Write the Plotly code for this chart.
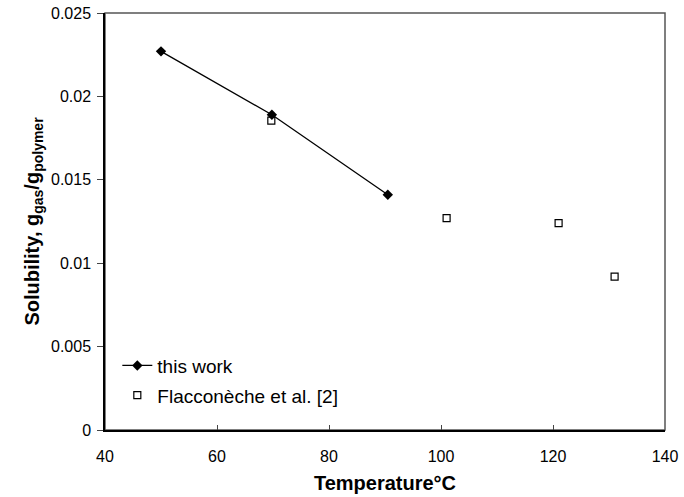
import plotly.graph_objects as go

this_work_T = [50, 69.8, 90.5]
this_work_S = [0.0227, 0.0189, 0.0141]
flac_T = [69.7, 101, 121, 131]
flac_S = [0.01855, 0.0127, 0.0124, 0.0092]

y_ticks = [0, 0.005, 0.01, 0.015, 0.02, 0.025]
y_ticktext = ["0", "0.005", "0.01", "0.015", "0.02", "0.025"]
x_ticks = [40, 60, 80, 100, 120, 140]

font_family = "Liberation Sans, Arial, sans-serif"

fig = go.Figure()
fig.add_trace(go.Scatter(
    x=this_work_T, y=this_work_S, mode="lines+markers", name="this work",
    legendgroup="a",
    line=dict(color="black", width=1.3),
    marker=dict(symbol="diamond", size=8, color="black"),
))
fig.add_trace(go.Scatter(
    x=flac_T, y=flac_S, mode="markers", name="Flacconèche et al. [2]",
    legendgroup="b",
    marker=dict(symbol="square-open", size=7, color="black", line=dict(width=1.2)),
))

fig.update_layout(
    width=684, height=497,
    margin=dict(l=105, r=19, t=13, b=67, autoexpand=False),
    paper_bgcolor="white", plot_bgcolor="white",
    font=dict(family=font_family, size=16, color="black"),
    showlegend=True,
    legend=dict(x=0.022, y=0.2, xanchor="left", yanchor="top",
                bgcolor="rgba(0,0,0,0)", font=dict(size=19),
                traceorder="grouped", tracegroupgap=2),
    shapes=[dict(type="rect", xref="paper", yref="paper", x0=0, y0=0, x1=1, y1=1,
                 line=dict(color="#555555", width=1.5), layer="below")],
)
fig.update_xaxes(
    range=[40, 140], tickvals=x_ticks, ticks="inside", ticklen=5,
    showline=True, linecolor="black", linewidth=1.5, mirror=False,
    showgrid=False, zeroline=False, automargin=False,
    ticklabelstandoff=11,
    title=dict(text="<b>Temperature°C</b>", font=dict(size=20), standoff=12),
    tickfont=dict(size=16),
)
fig.update_yaxes(
    range=[0, 0.025], tickvals=y_ticks, ticktext=y_ticktext, ticks="outside", ticklen=6,
    showline=True, linecolor="black", linewidth=1.5, mirror=False,
    showgrid=False, zeroline=False, automargin=False,
    ticklabelstandoff=3,
    title=dict(text="<b>Solubility, g<sub>gas</sub>/g<sub>polymer</sub></b>", font=dict(size=20), standoff=6),
    tickfont=dict(size=16),
)

fig.write_html("out.html", config={"displayModeBar": False},
               post_script="document.body.style.margin='0';document.body.style.overflow='hidden';")
